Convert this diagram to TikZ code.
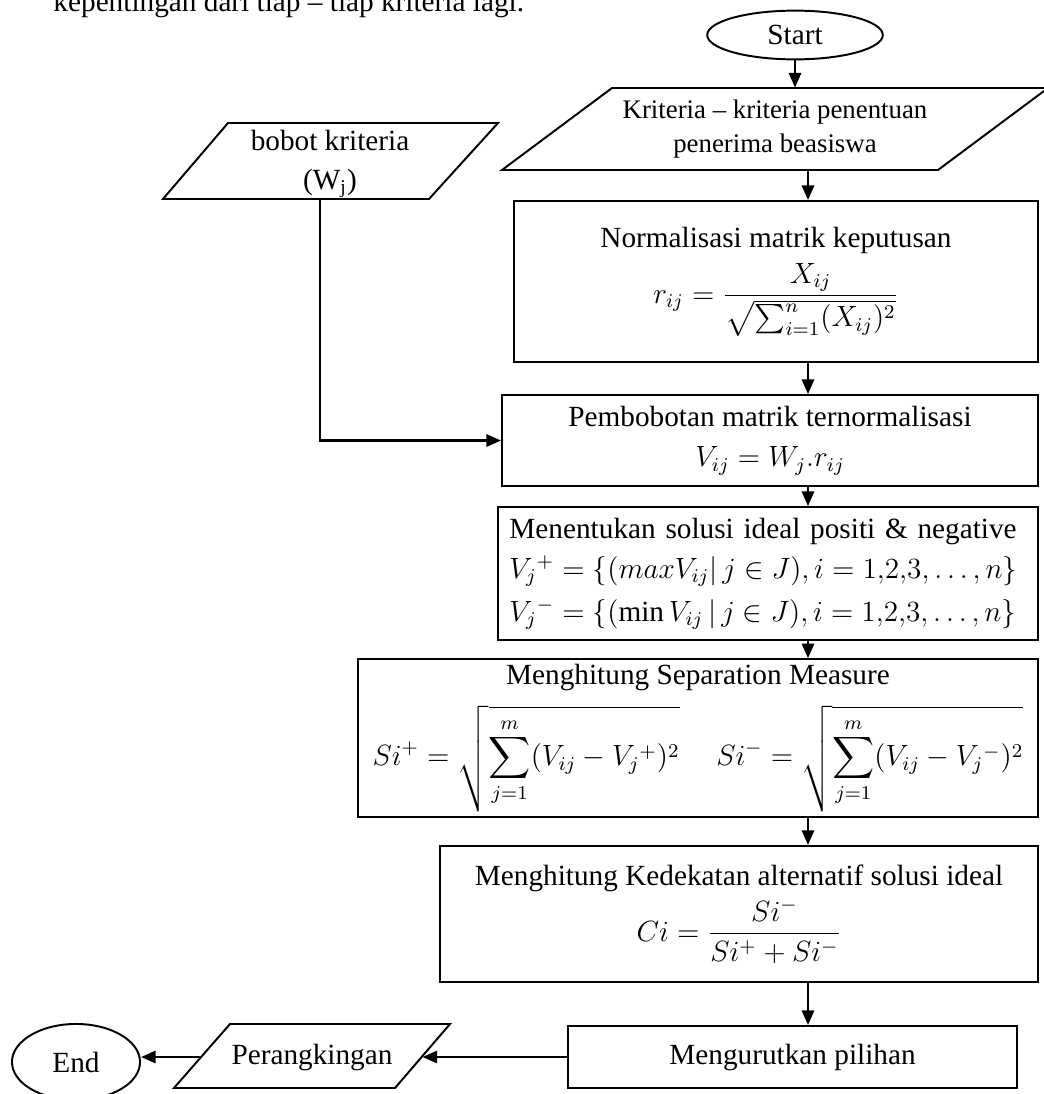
\documentclass[tikz,border=0pt,12pt]{standalone}
\usepackage{fontspec}
\setmainfont{Liberation Serif}
\usepackage{amsmath}
\usetikzlibrary{positioning, calc, arrows.meta, shapes.geometric}

\tikzset{
  proses/.style={draw, line width=0.8pt, align=center, inner sep=2pt},
  terminal/.style={draw, ellipse, line width=0.8pt, inner sep=0pt},
  masukan/.style={align=center, inner sep=0pt},
  panah/.style={-{Triangle[length=6pt,width=5pt]}, line width=1pt},
}

\begin{document}
\begin{tikzpicture}[x=0.41pt, y=-0.41pt]
        \useasboundingbox (0,0) rectangle (1044,1094);
        %sisa teks paragraf
        \node[anchor=base west, inner sep=0pt] (teks) at (53,11) {kepentingan dari tiap -- tiap kriteria lagi.};
        %sumbu panah
        \coordinate (sumbu) at (808,0);
        %mulai
        \node[terminal, minimum width=72pt, minimum height=20pt] (mulai) at (795,35) {Start};
        %input kriteria
        \draw[line width=0.8pt] (502,170) -- (938,170) -- (1048,88) -- (612,88) -- cycle;
        \node[masukan, minimum height=33.6pt, font=\fontsize{11}{14}\selectfont] (krit) at (775,129) {Kriteria -- kriteria penentuan\\penerima beasiswa};
        %input bobot
        \draw[line width=0.8pt] (163,199) -- (429,199) -- (498,123) -- (228,123) -- cycle;
        \node[masukan, minimum height=28.7pt] (bobot) at (330,164) {bobot kriteria\\[1.4pt](W\textsubscript{j})};
        %proses topsis
        \node[proses, minimum width=214.8pt, minimum height=66pt] (norm) at (776,281.5) {Normalisasi matrik keputusan\\[3pt] $\displaystyle r_{ij}=\frac{X_{ij}}{\sqrt{\sum_{i=1}^{n}(X_{ij})^2}}$};
        \node[proses, minimum width=219.8pt, minimum height=37.3pt] (bobotan) at (770,440.5) {Pembobotan matrik ternormalisasi\\[2pt] $V_{ij}=W_j.r_{ij}$};
        \node[proses, minimum width=221.4pt, minimum height=54.5pt, text width=212pt, inner xsep=4.7pt, align=left] (ideal) at (768,573.5) {Menentukan solusi ideal positi \& negative\\[2pt] $V_j{}^{+}=\{(maxV_{ij}|\, j\in J), i=1{,}2{,}3,\dots,n\}$\\[3pt] $V_j{}^{-}=\{(\min V_{ij}\,|\, j\in J), i=1{,}2{,}3,\dots,n\}$};
        \node[proses, minimum width=278.8pt, minimum height=62.3pt] (pisah) at (698,738) {Menghitung Separation Measure\\[5pt] $\displaystyle Si^{+}=\sqrt{\sum_{j=1}^{m}(V_{ij}-V_j{}^{+})^2}$\quad\ $\displaystyle Si^{-}=\sqrt{\sum_{j=1}^{m}(V_{ij}-V_j{}^{-})^2}$};
        \node[proses, minimum width=245.2pt, minimum height=55.8pt] (dekat) at (739,914) {Menghitung Kedekatan alternatif solusi ideal\\[2pt] $\displaystyle Ci=\frac{Si^{-}}{Si^{+}+Si^{-}}$};
        \node[proses, minimum width=184.1pt, minimum height=25.4pt] (urut) at (792.5,1057) {Mengurutkan pilihan};
        %output
        \draw[line width=0.8pt] (174,1088) -- (395,1088) -- (450,1024) -- (230,1024) -- cycle;
        \node[masukan, minimum width=90.2pt, minimum height=26.2pt] (rank) at (312,1057) {Perangkingan};
        %selesai
        \node[terminal, minimum width=52.5pt, minimum height=31.2pt] (selesai) at (76,1062) {End};
        %panah alur
        \draw[panah] (mulai.south) -- (mulai.south |- krit.north);
        \draw[panah] (krit.south -| sumbu) -- (norm.north -| sumbu);
        \draw[panah] (norm.south -| sumbu) -- (bobotan.north -| sumbu);
        \draw[panah] (bobotan.south -| sumbu) -- (ideal.north -| sumbu);
        \draw[panah] (ideal.south -| sumbu) -- (pisah.north -| sumbu);
        \draw[panah] (pisah.south -| sumbu) -- (dekat.north -| sumbu);
        \draw[panah] (dekat.south -| sumbu) -- (urut.north -| sumbu);
        \draw[panah] ([xshift=-4.1pt]bobot.south) |- (bobotan.west);
        \draw[panah] (urut.west) -- (rank.east);
        \draw[panah] (rank.west) -- (rank.west -| selesai.east);
\end{tikzpicture}
\end{document}
